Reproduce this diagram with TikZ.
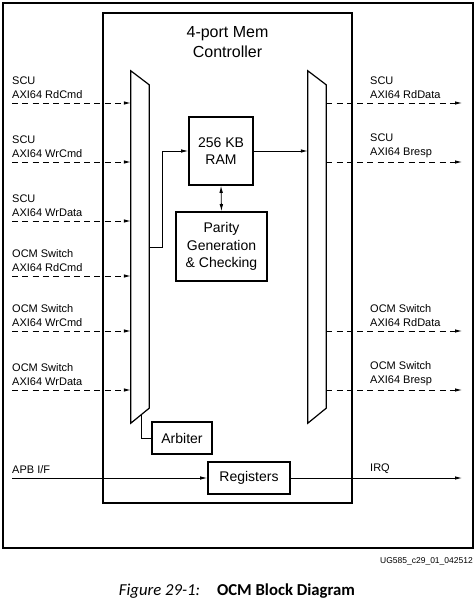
\documentclass[tikz,border=0pt]{standalone}
\usepackage{fontspec}
\setmainfont{Liberation Sans}
\newfontfamily\capfont{Carlito}
\usetikzlibrary{arrows.meta, positioning, calc}
\tikzset{
	blk/.style={rectangle, draw, line width=1.6pt, inner sep=0pt, align=center,
		font=\fontsize{14}{17.5}\selectfont},
	lbl/.style={inner sep=0pt, anchor=south west, align=left,
		font=\fontsize{11}{14}\selectfont},
	mux/.style={rectangle, inner sep=0pt, minimum width=18pt, minimum height=352pt},
	muxline/.style={line width=1.2pt, line join=miter},
	arr/.style={-{Latex[length=7pt, width=3.5pt]}, line width=0.8pt},
	darr/.style={arr, dash pattern=on 6pt off 4.3pt},
	dbl/.style={{Latex[length=7pt, width=3.5pt]}-{Latex[length=7pt, width=3.5pt]}, line width=0.8pt},
}

\begin{document}
\begin{tikzpicture}[x=1pt, y=-1pt]
	\useasboundingbox (0,0) rectangle (475,601);
	
	\node[rectangle, draw, line width=1.6pt, minimum width=470pt, minimum height=545pt, inner sep=0] (frame) at (238,275.5) {};
	\node[rectangle, draw, line width=1.6pt, minimum width=249pt, minimum height=490pt, inner sep=0] (memctl) at (227.5,258) {};
	\node[align=center, font=\fontsize{16}{20}\selectfont] (title) at (227.5,42.5) {4-port Mem\\Controller};
	
	\node[mux] (lmux) at (140,247) {};
	\node[mux] (rmux) at (317,247) {};
	\foreach \m in {lmux,rmux}
		\draw[muxline] (\m.north west) -- ([yshift=-14pt]\m.north east) -- ([yshift=15pt]\m.south east) -- (\m.south west) -- cycle;
	
	\node[blk, minimum width=64pt, minimum height=68pt] (ram) at (221,151) {256 KB\\RAM};
	\node[blk, minimum width=91pt, minimum height=69pt] (parity) at (221.5,246.5) {Parity\\Generation\\\& Checking};
	\node[blk, minimum width=60pt, minimum height=32pt] (arbiter) at (182,438) {Arbiter};
	\node[blk, minimum width=82pt, minimum height=32pt] (regs) at (249,478) {Registers};
	
	% AXI ports in
	\foreach \y/\a/\b [count=\i] in {103/SCU/AXI64 RdCmd, 162/SCU/AXI64 WrCmd, 221/SCU/AXI64 WrData,
		276/OCM Switch/AXI64 RdCmd, 331/OCM Switch/AXI64 WrCmd, 390/OCM Switch/AXI64 WrData} {
		\node[lbl] (in\i) at (12,\y-4) {\a\\\b};
		\draw[darr] (in\i.south west |- 0,\y) -- (lmux.west |- 0,\y);
	}
	
	% AXI ports out
	\foreach \y/\a/\b [count=\i] in {103/SCU/AXI64 RdData, 162/SCU/AXI64 Bresp,
		331/OCM Switch/AXI64 RdData, 390/OCM Switch/AXI64 Bresp} {
		\node[lbl] (out\i) at (370,\y-4) {\a\\\b};
		\coordinate (oend\i) at (462,\y);
		\draw[darr] (rmux.east |- oend\i) -- (oend\i);
	}
	
	\draw[arr] (lmux.east |- 0,247) -- ++(13,0) |- (ram.west);
	\draw[arr] (ram.east) -- (ram.east -| rmux.west);
	\draw[dbl] (ram.south) -- (parity.north);
	
	\coordinate (tap) at (141,415);
	\draw[line width=0.8pt] (tap) |- (arbiter.west);
	
	\node[lbl] (apb) at (12,473.5) {APB I/F};
	\draw[arr] (apb.south west |- regs.west) -- (regs.west);
	\node[lbl] (irq) at (370,473.5) {IRQ};
	\coordinate (irqend) at (462,478);
	\draw[arr] (regs.east) -- (irqend);
	
	\node[anchor=east, inner sep=0, font=\fontsize{8.5}{10}\selectfont] (figid) at (473,561) {UG585\_c29\_01\_042512};
	\node[inner sep=0, font=\capfont\fontsize{16.7}{19}\selectfont] (caption) at (237,591) {\textit{Figure 29-1:}\hspace{17pt}\textbf{OCM Block Diagram}};
	
\end{tikzpicture}
\end{document}
